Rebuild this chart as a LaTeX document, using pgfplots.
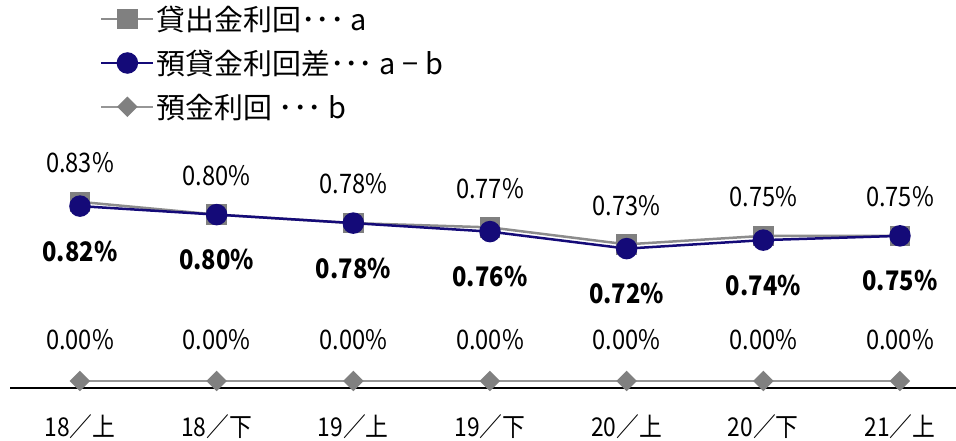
\documentclass[border=0pt]{standalone}
\usepackage{fontspec}
\setmainfont{Noto Sans CJK JP}
\newfontfamily\numfont{Noto Sans CJK JP}[FakeStretch=0.88]
\usepackage{pgfplots}
\pgfplotsset{compat=1.18}
\definecolor{spreadblue}{RGB}{20,10,120}
\definecolor{markgray}{RGB}{128,128,128}
\definecolor{linegray}{RGB}{140,140,140}
\definecolor{depgray}{RGB}{150,150,150}

\newcommand{\pctlabel}{\pgfmathprintnumber[fixed,fixed zerofill,precision=2]{\pgfplotspointmeta}\%}

\begin{document}
\begin{tikzpicture}
\path[use as bounding box] (0,0) rectangle (956bp,441bp);
\pgfplotsset{
  base/.style={
    at={(10bp,53bp)}, anchor=south west, scale only axis,
    width=946bp, height=388bp,
    xmin=-0.512, xmax=6.41,
    clip=false,
    /pgf/number format/assume math mode=true,
  },
  legend image code/.code={
    \draw[mark repeat=2,mark phase=2,#1]
      plot coordinates {(0bp,0bp) (26bp,0bp) (52bp,0bp)};
  },
}
% lending yield and spread
\begin{axis}[base, ymin=0.392, ymax=1.305,
  axis x line=bottom, axis y line=none,
  x axis line style={-, line width=2bp, black},
  ytick=\empty,
  xtick={0,...,6},
  xticklabels={18／上,18／下,19／上,19／下,20／上,20／下,21／上},
  xtick style={draw=none},
  xticklabel style={font=\numfont\fontsize{26}{30}\selectfont, anchor=center, yshift=-37bp},
  legend style={at={(0.0951,1)}, anchor=north west, draw=none, fill=none,
    font=\fontsize{29}{34}\selectfont, row sep=14bp, inner sep=0pt, yshift=-4bp,
    /tikz/every even column/.append style={column sep=5bp}},
  legend cell align=left,
]
\addplot[linegray, line width=2.5bp, mark=square*, mark size=9bp,
  mark options={markgray, fill=markgray},
  nodes near coords={\pctlabel},
  every node near coord/.append style={font=\numfont\fontsize{27}{30}\selectfont, black, anchor=center, yshift=39bp}]
  coordinates {(0,0.83) (1,0.80) (2,0.78) (3,0.77) (4,0.73) (5,0.75) (6,0.75)};
\addlegendentry{貸出金利回･･･ a}
\addplot[spreadblue, line width=2.5bp, mark=*, mark size=9.5bp,
  mark options={spreadblue, fill=spreadblue},
  nodes near coords={\pctlabel},
  every node near coord/.append style={font=\numfont\fontsize{27}{30}\selectfont\bfseries, black, anchor=center, yshift=-45bp}]
  coordinates {(0,0.82) (1,0.80) (2,0.78) (3,0.76) (4,0.72) (5,0.74) (6,0.75)};
\addlegendentry{預貸金利回差･･･ a − b}
\addlegendimage{depgray, line width=2.5bp, mark=square*, mark size=6bp,
  mark options={markgray, fill=markgray, rotate=45}}
\addlegendentry{預金利回 ･･･ b}
\end{axis}
% deposit yield on its own scale
\begin{axis}[base, ymin=-0.1, ymax=5.44, hide axis]
\addplot[depgray, line width=2.5bp, mark=square*, mark size=6bp,
  mark options={markgray, fill=markgray, rotate=45},
  nodes near coords={\pctlabel},
  every node near coord/.append style={font=\numfont\fontsize{27}{30}\selectfont, black, anchor=center, yshift=41bp}]
  coordinates {(0,0) (1,0) (2,0) (3,0) (4,0) (5,0) (6,0)};
\end{axis}
\end{tikzpicture}
\end{document}
